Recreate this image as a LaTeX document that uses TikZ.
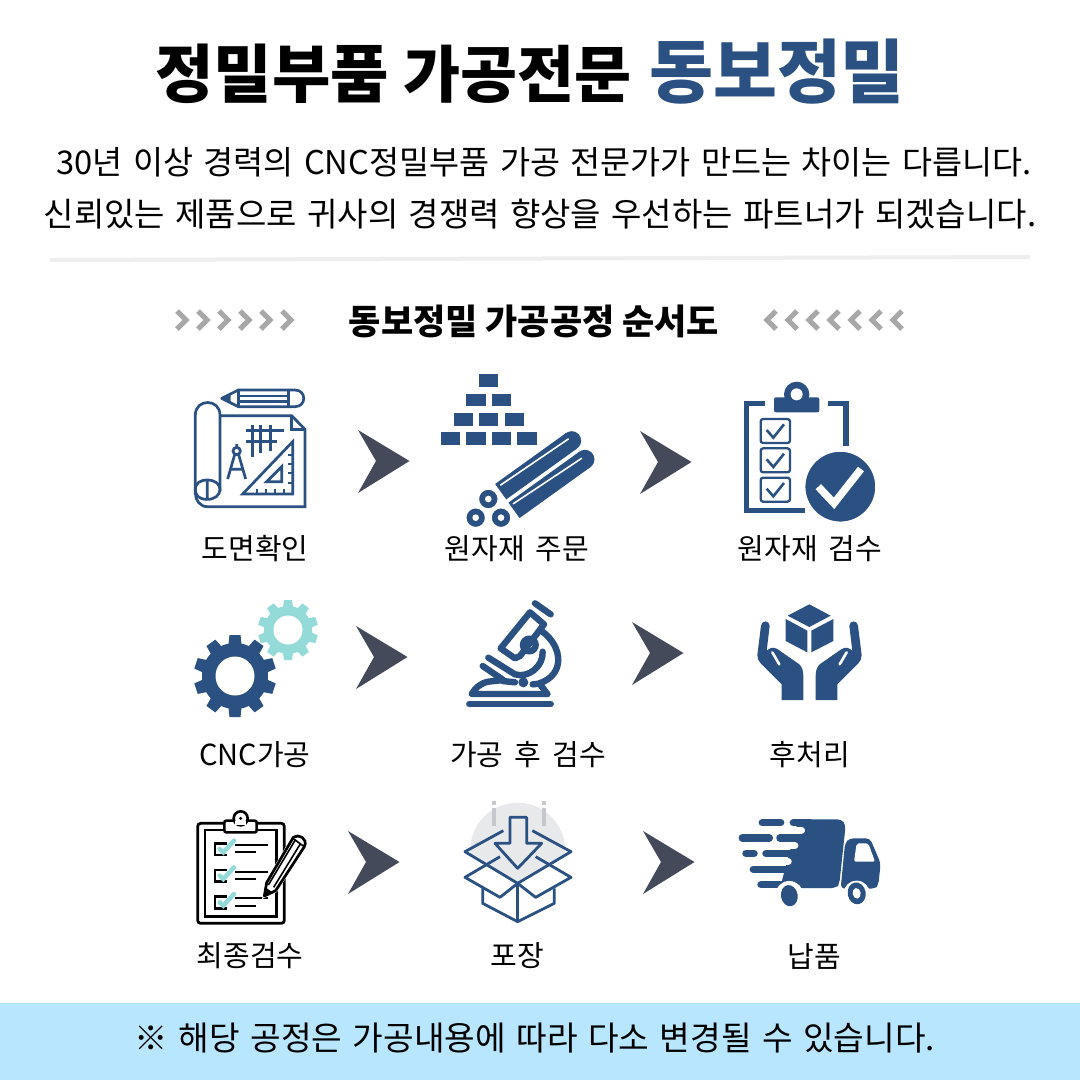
\documentclass[tikz,border=0pt]{standalone}
\usepackage{fontspec}
\setmainfont[WordSpace=1.4]{Noto Sans CJK KR}
\newfontfamily\labfont[WordSpace=1.7]{Noto Sans CJK KR}
\newfontfamily\blackfont{Noto Sans CJK KR Black}
\definecolor{navy}{HTML}{2B5082}
\definecolor{arrowc}{HTML}{444A5A}
\definecolor{teal}{HTML}{94DAD9}
\definecolor{chev}{HTML}{A8A8A8}
\definecolor{barc}{HTML}{B9E6FF}
\definecolor{sep}{HTML}{EEEEEE}
\definecolor{lgray}{HTML}{E8E9EB}
\definecolor{dgray}{HTML}{C5C7CC}
\tikzset{
  lab/.style={inner sep=0pt,font=\labfont\fontsize{29}{29}\selectfont,text=black},
  head/.style={inner sep=0pt,font=\blackfont,text=black},
  bodytext/.style={inner sep=0pt,text=black},
  nl/.style={draw=navy,line width=2.7pt},
  chevl/.style={draw=chev,line width=5pt},
  zoomed/.style={shift={#1},scale=0.33333},
}
\newcommand{\procarrow}[2]{\fill[arrowc] (#1,#2-31) -- (#1+51.5,#2) -- (#1,#2+32) -- (#1+18,#2) -- cycle;}
\newcommand{\gearicon}[7]{% cx cy Rout Rbody Rhole colour halfwidth
  \begin{scope}[shift={(#1,#2)}]
    \fill[#6] (0,0) circle (#4);
    \foreach \a in {90,126,...,414} {
      \fill[#6,rotate=\a] (#4-1,-#7-1) -- (#3,-#7) -- (#3,#7) -- (#4-1,#7+1) -- cycle;
    }
    \fill[white] (0,0) circle (#5);
  \end{scope}}
\begin{document}
\begin{tikzpicture}[x=1pt,y=-1pt]
\useasboundingbox (0,0) rectangle (1080,1080);
\fill[white] (0,0) rectangle (1080,1080);
\fill[barc] (0,1003) rectangle (1080,1080);
% heading
\node[head] (titleA) at (272,74) {\fontsize{63.5}{64}\selectfont 정밀부품};
\node[head] (titleB) at (517.5,74) {\fontsize{62}{64}\selectfont 가공전문};
\node[head,text=navy] (titleC) at (777,72) {\fontsize{69.5}{70}\selectfont 동보정밀};
\node[bodytext,font=\fontsize{32.7}{33}\selectfont] (line1) at (544,162) {30년 이상 경력의 CNC정밀부품 가공 전문가가 만드는 차이는 다릅니다.};
\node[bodytext,font=\fontsize{33}{33}\selectfont] (line2) at (540,214) {신뢰있는 제품으로 귀사의 경쟁력 향상을 우선하는 파트너가 되겠습니다.};
\draw[sep,line width=4pt] (50,260) -- (1030,257);
\node[head] (sect) at (534,321) {\fontsize{35}{35}\selectfont 동보정밀 가공공정 순서도};
\foreach \i in {0,...,5} \draw[chevl] (177+21*\i,311) -- (186+21*\i,320) -- (177+21*\i,329);
\foreach \i in {0,...,6} \draw[chevl] (776+21*\i,311) -- (767+21*\i,320) -- (776+21*\i,329);
% labels
\node[lab] (l1) at (255,549) {도면확인};
\node[lab] (l2) at (517,549) {원자재 주문};
\node[lab] (l3) at (810,549) {원자재 검수};
\node[lab] (l4) at (255,755) {CNC가공};
\node[lab] (l5) at (528,755) {가공 후 검수};
\node[lab] (l6) at (810,755) {후처리};
\node[lab] (l7) at (250,956) {최종검수};
\node[lab] (l8) at (517,956) {포장};
\node[lab] (l9) at (814,956) {납품};
\node[inner sep=0pt,font=\fontsize{33.3}{33}\selectfont] (note) at (535,1038) {※ 해당 공정은 가공내용에 따라 다소 변경될 수 있습니다.};
% arrows
\procarrow{358}{461}\procarrow{640}{462}
\procarrow{356}{657}\procarrow{632}{653}
\procarrow{348}{862}\procarrow{643}{862}
% icon 1 drawing
\begin{scope}[zoomed={(170,370)}]
  \draw[nl,line join=round] (155,85) -- (205,60) -- (375,60) .. controls (410,60) and (410,110) .. (375,110) -- (205,110) -- cycle;
  \draw[nl] (205,60) -- (205,110) (355,60) -- (355,110) (208,78) -- (355,78) (208,95) -- (355,95);
  \fill[navy] (155,85) -- (182,72) -- (182,98) -- cycle;
  \draw[nl] (150,137) -- (365,137) -- (405,178) -- (405,410) -- (112,410) .. controls (90,410) and (76,390) .. (76,370) -- (76,135) .. controls (76,85) and (150,85) .. (150,135) -- (150,365);
  \draw[nl] (365,137) -- (365,178) -- (405,178);
  \draw[nl] (112,388) .. controls (85,388) and (76,375) .. (76,358) .. controls (76,340) and (90,330) .. (112,330) .. controls (135,330) and (150,342) .. (150,358) .. controls (150,375) and (135,388) .. (112,388) -- (112,330);
  \draw[nl,line width=3pt] (228,180) -- (342,180) (228,213) -- (320,213) (248,165) -- (248,262) (272,165) -- (272,250) (300,165) -- (300,242);
  \draw[nl,line join=miter] (368,215) -- (368,372) -- (218,372) -- cycle;
  \draw[nl] (335,290) -- (335,335) -- (290,335) -- cycle;
  \draw[navy,line width=1.8pt] (368,255) -- (354,255) (368,282) -- (354,282) (368,310) -- (354,310) (368,338) -- (354,338) (260,372) -- (260,358) (288,372) -- (288,358) (315,372) -- (315,358) (342,372) -- (342,358);
  \draw[nl] (200,243) circle (11);
  \draw[nl] (200,222) -- (200,232) (194,254) -- (173,327) (206,254) -- (227,327) (184,298) -- (216,298);
\end{scope}
% icon 2 materials
\begin{scope}[zoomed={(430,365)}]
  \foreach \x/\y in {147/28,109/86,186/86,71/144,147/144,224/144,32/201,109/201,186/201,262/201}
    \fill[navy] (\x,\y) rectangle ++(58,38);
\end{scope}
\begin{scope}[zoomed={(460,425)}]
  \draw[navy,line width=19pt] (122,200) -- (335,47);
  \fill[navy] (335,47) circle (28.5);
  \draw[navy,line width=19pt] (162,256) -- (375,103);
  \fill[navy] (375,103) circle (28.5);
  \draw[white,line width=1.6pt,line cap=round] (122,180) -- (325,42);
  \draw[white,line width=1.6pt,line cap=round] (160,236) -- (365,100);
  \foreach \x/\y in {85/222,47/278,123/278} {
    \filldraw[fill=navy,draw=white,line width=1.5pt] (\x,\y) circle (30);
    \fill[white] (\x,\y) circle (10);
  }
\end{scope}
% icon 3 checklist
\begin{scope}[zoomed={(430,365)}]
  \draw[navy,line width=5.5pt] (1005,115) -- (950,115) -- (950,437) -- (1125,437);
  \draw[navy,line width=5.5pt] (1193,115) -- (1248,115) -- (1248,242);
  \fill[navy,rounded corners=2pt] (1032,97) rectangle (1168,142);
  \fill[navy] (1100,88) circle (38);
  \fill[white] (1100,88) circle (18);
  \foreach \d in {0,88,176} {
    \draw[navy,line width=2.3pt,rounded corners=2.5pt] (992,162+\d) rectangle (1080,234+\d);
    \draw[navy,line width=2.6pt] (1010,195+\d) -- (1030,218+\d) -- (1062,178+\d);
  }
  \filldraw[fill=navy,draw=white,line width=1.5pt] (1231,365) circle (107);
  \draw[white,line width=7.5pt] (1165,365) -- (1212,415) -- (1293,312);
\end{scope}
% icon 4 gears
\gearicon{288}{630}{30}{24}{14.5}{teal}{4}
\gearicon{235}{676}{41}{33}{19.5}{navy}{5.5}
% icon 5 microscope
\begin{scope}[zoomed={(460,595)}]
  \begin{scope}[line width=6.4pt,line cap=round,line join=round,draw=navy]
    \draw[line width=6.5pt] (28,327) -- (272,327);
    \draw (225,25) -- (272,58);
    \draw (210,52) -- (252,88) -- (180,183) -- (165,190) -- (122,160) -- cycle;
    \draw (208,150) circle (19);
    \draw (85,188) -- (165,238) .. controls (205,250) and (250,215) .. (248,170);
    \draw (245,108) .. controls (310,155) and (315,240) .. (238,265) -- (262,297);
    \draw (68,213) -- (130,255) -- (85,260) .. controls (60,265) and (45,280) .. (35,297) -- (262,297);
    \draw (128,258) -- (165,262);
    \draw (218,268) -- (238,266);
  \end{scope}
  \fill[navy] (190,262) circle (15);
\end{scope}
% icon 6 hands
\begin{scope}[zoomed={(740,595)}]
  \fill[navy] (208,28) -- (272,62) -- (208,96) -- (143,62) -- cycle;
  \fill[navy] (137,72) -- (202,107) -- (202,172) -- (137,138) -- cycle;
  \fill[navy] (280,72) -- (214,107) -- (214,172) -- (280,138) -- cycle;
\end{scope}
\foreach \sc/\ox in {0.33333/740,-0.33333/879} {
\begin{scope}[shift={(\ox,595)},xscale=\sc,yscale=0.33333]
  \fill[navy] (63,92) .. controls (65,75) and (88,75) .. (89,92) -- (80,168) .. controls (88,158) and (100,155) .. (112,162) -- (178,208) .. controls (188,218) and (190,230) .. (190,245) -- (190,315) -- (125,315) -- (125,268) -- (62,205) .. controls (55,198) and (52,190) .. (52,180) -- cycle;
  \draw[white,line width=2.6pt,line cap=round] (97,172) -- (118,208);
\end{scope}}
% icon 7 clipboard
\begin{scope}[zoomed={(185,800)}]
  \draw[black,line width=2.8pt,rounded corners=3pt] (38,70) rectangle (298,370);
  \draw[black,line width=2.4pt] (60,90) rectangle (275,350);
  \filldraw[fill=white,draw=black,line width=2.6pt,rounded corners=2pt] (118,62) rectangle (215,97);
  \filldraw[fill=white,draw=black,line width=2.6pt] (167,55) circle (21);
  \fill[white] (150,64) rectangle (184,76);
  \fill[black] (167,55) circle (5);
  \foreach \d in {0,80,160} {
    \draw[black,line width=2.6pt] (125,130+\d) -- (90,130+\d) -- (90,165+\d) -- (125,165+\d);
    \draw[teal,line width=4.5pt,line cap=round] (104,147+\d) -- (115,157+\d) -- (147,122+\d);
    \draw[black,line width=2.2pt] (150,135+\d) -- (248,135+\d) (150,157+\d) -- (212,157+\d);
  }
  \filldraw[fill=white,draw=white,line width=3.5pt] (238,288) -- (245,248) -- (325,112) .. controls (340,100) and (370,115) .. (358,140) -- (272,272) -- cycle;
  \filldraw[fill=white,draw=black,line width=2.7pt,line join=round] (238,288) -- (245,248) -- (325,112) .. controls (340,100) and (370,115) .. (358,140) -- (272,272) -- cycle;
  \fill[black] (238,288) -- (241,262) -- (260,275) -- cycle;
  \draw[black,line width=1.6pt] (250,255) -- (332,118) (266,262) -- (347,130) (322,114) -- (355,138);
\end{scope}
% icon 8 box
\begin{scope}[zoomed={(185,800)}]
  \begin{scope}
    \clip (840,0) -- (1158,0) -- (1158,155) -- (998,250) -- (840,155) -- cycle;
    \fill[lgray] (998,150) circle (142);
  \end{scope}
  \draw[dgray,line width=3.2pt] (927,2) -- (927,14) (927,25) -- (927,78) (1077,2) -- (1077,14) (1077,25) -- (1077,78);
  \begin{scope}[line width=2.8pt,draw=navy,line join=round]
    \draw (975,52) -- (1025,52) -- (1025,130) -- (1070,130) -- (998,205) -- (930,130) -- (975,130) -- cycle;
    \draw (955,92) -- (840,155) -- (998,250) -- (1158,155) -- (1042,92);
    \draw (945,170) -- (840,232) -- (945,292) -- (998,250) -- (1052,292) -- (1158,232) -- (1052,170);
    \draw (893,265) -- (893,310) -- (998,365) -- (1108,310) -- (1108,265);
    \draw (998,250) -- (998,365);
  \end{scope}
\end{scope}
% icon 9 truck
\begin{scope}[zoomed={(730,810)}]
  \fill[navy,rounded corners=4pt] (205,28) -- (335,28) -- (347,45) -- (328,222) -- (318,234) -- (150,234) -- cycle;
  \foreach \y/\xe in {61/225,107/205,155/185,201/155}
    \draw[white,line width=7.5pt,line cap=round] (120,\y) -- (\xe-11,\y);
  \foreach \y/\xa/\xb in {38/97/152,38/190/240,84/37/118,84/150/240,130/48/72,130/108/240,178/70/240,224/93/240}
    \draw[navy,line width=7.5pt,line cap=round] (\xa,\y) -- (\xb,\y);
  \fill[white] (178,255) circle (42);
  \fill[navy,rounded corners=4pt] (332,236) -- (345,100) -- (358,85) -- (420,85) -- (452,160) -- (445,225) -- (435,236) -- cycle;
  \fill[white,rounded corners=2pt] (380,100) -- (415,100) -- (435,155) -- (372,155) -- cycle;
  \fill[white] (380,252) circle (40);
  \fill[navy,rotate around={10:(178,257)}] (178,257) ellipse (25 and 32);
  \fill[navy,rotate around={10:(380,250)}] (380,250) ellipse (27 and 33);
  \fill[white,rotate around={10:(380,250)}] (380,250) ellipse (12 and 16);
\end{scope}
\end{tikzpicture}
\end{document}
